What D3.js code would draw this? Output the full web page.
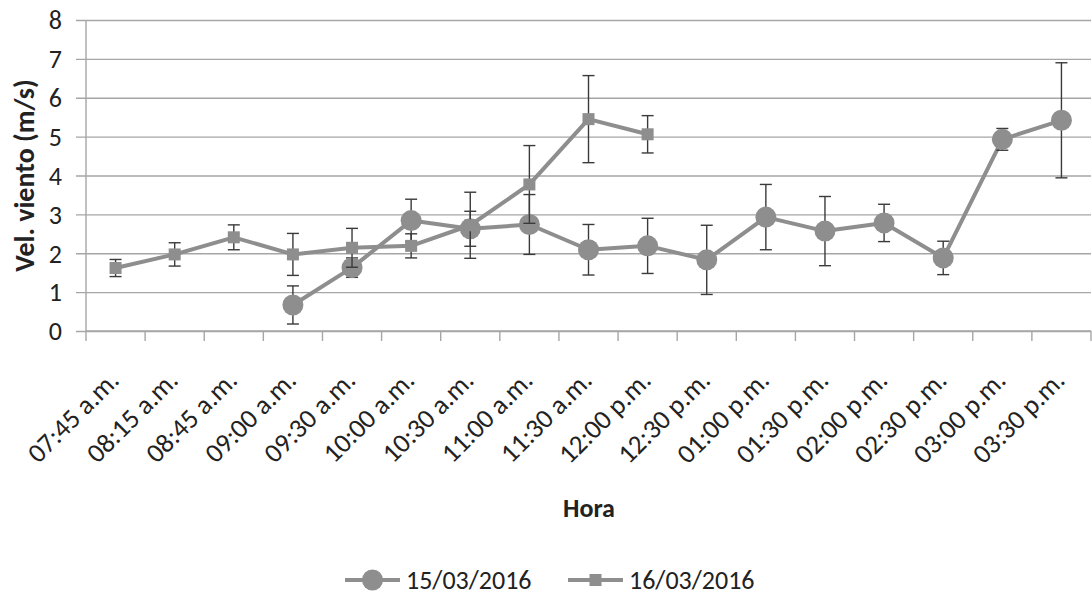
<!DOCTYPE html>
<html>
<head>
<meta charset="utf-8">
<script src="https://cdn.jsdelivr.net/npm/d3@7"></script>
<style>
  body { margin: 0; background: #fff; }
  svg { display: block; font-family: Carlito, Lato, "Liberation Sans", sans-serif; }
</style>
</head>
<body>
<svg id="chart" width="1092" height="598"></svg>
<script>

// horas de medicion
var categories = ["07:45 a.m.","08:15 a.m.","08:45 a.m.","09:00 a.m.","09:30 a.m.","10:00 a.m.",
  "10:30 a.m.","11:00 a.m.","11:30 a.m.","12:00 p.m.","12:30 p.m.","01:00 p.m.","01:30 p.m.",
  "02:00 p.m.","02:30 p.m.","03:00 p.m.","03:30 p.m."];

// 15/03/2016 (circulos)
var vel15 = [null,null,null,0.67,1.63,2.84,2.63,2.74,2.09,2.19,1.83,2.93,2.57,2.78,1.88,4.93,5.42];
var err15 = [null,null,null,0.49,0.25,0.55,0.45,0.77,0.65,0.71,0.89,0.84,0.89,0.48,0.43,0.28,1.48];

// 16/03/2016 (cuadrados)
var vel16 = [1.62,1.97,2.41,1.97,2.14,2.19,2.72,3.77,5.45,5.06,null,null,null,null,null,null,null];
var err16 = [0.22,0.30,0.32,0.54,0.50,0.31,0.85,1.00,1.12,0.48,null,null,null,null,null,null,null];

var seriesNames = ["15/03/2016","16/03/2016"];
var yTicks = [0,1,2,3,4,5,6,7,8];

var lineColor = "#8e8e8e";
var gridColor = "#a6a6a6";
var errColor = "#3a3a3a";

var svg = d3.select("#chart");
var pLeft = 86, pRight = 1091, pTop = 20, pBottom = 331;

var x = d3.scaleBand().domain(categories).range([pLeft,pRight]);
var y = d3.scaleLinear().domain([0,8]).range([pBottom,pTop]);

function toPoints(vals,errs){
  return vals.map(function(v,i){ return {cat:categories[i], v:v, e:errs[i]}; })
             .filter(function(d){ return d.v != null; });
}
var series = [
  {name:seriesNames[0], shape:"circle", pts:toPoints(vel15,err15)},
  {name:seriesNames[1], shape:"square", pts:toPoints(vel16,err16)}
];

// grid + y axis
var yAxis = d3.axisLeft(y).tickValues(yTicks).tickSize(-(pRight-pLeft)).tickPadding(24);
var gy = svg.append("g")
    .attr("transform", `translate(${pLeft},0)`)
    .call(yAxis);
gy.select(".domain").remove();
gy.selectAll(".tick line")
    .attr("x1", -10)
    .attr("stroke", gridColor)
    .attr("stroke-width", 1.4);
gy.selectAll(".tick text")
    .attr("font-size", 26)
    .attr("dy", "0.34em")
    .attr("fill", "#222");
gy.attr("font-family", null);

svg.append("line")
    .attr("x1", pLeft).attr("x2", pLeft)
    .attr("y1", pTop).attr("y2", pBottom)
    .attr("stroke", gridColor).attr("stroke-width", 1.4);

// x axis, ticks between categories
var bounds = categories.map(function(c){ return x(c); }).concat([pRight]);
svg.append("line")
    .attr("x1", pLeft).attr("x2", pRight)
    .attr("y1", pBottom).attr("y2", pBottom)
    .attr("stroke", gridColor).attr("stroke-width", 1.4);
svg.append("g").selectAll("line")
    .data(bounds)
    .enter()
    .append("line")
    .attr("x1", d => d).attr("x2", d => d)
    .attr("y1", pBottom).attr("y2", pBottom+10)
    .attr("stroke", gridColor).attr("stroke-width", 1.4);

svg.append("g").selectAll("text")
    .data(categories)
    .enter()
    .append("text")
    .text(d => d)
    .attr("text-anchor", "end")
    .attr("transform", d => `translate(${x(d) + x.bandwidth()/2 + 5},${pBottom+51}) rotate(-45)`)
    .attr("font-size", 27)
    .attr("fill", "#222");

// titulos
svg.append("text")
    .text("Hora")
    .attr("x", 589).attr("y", 517)
    .attr("text-anchor", "middle")
    .attr("font-weight", "bold")
    .attr("font-size", 26)
    .attr("fill", "#222");

svg.append("text")
    .text("Vel. viento (m/s)")
    .attr("transform", `translate(34,${(pTop+pBottom)/2}) rotate(-90)`)
    .attr("text-anchor", "middle")
    .attr("font-weight", "bold")
    .attr("font-size", 28)
    .attr("fill", "#222");

var line = d3.line()
    .x(d => x(d.cat) + x.bandwidth()/2)
    .y(d => y(d.v));

function drawMarker(sel, shape){
  if(shape == "circle"){
    sel.append("circle").attr("r", 10.5).attr("fill", lineColor);
  } else {
    sel.append("rect").attr("x",-6).attr("y",-6).attr("width",12).attr("height",12).attr("fill", lineColor);
  }
}

series.forEach(function(s){
  var g = svg.append("g");

  g.append("path")
      .datum(s.pts)
      .attr("d", line)
      .attr("fill", "none")
      .attr("stroke", lineColor)
      .attr("stroke-width", 4)
      .attr("stroke-linejoin", "round");

  var eb = g.selectAll(".err")
      .data(s.pts)
      .enter()
      .append("g")
      .attr("transform", d => `translate(${x(d.cat) + x.bandwidth()/2},0)`);
  eb.append("line")
      .attr("y1", d => y(d.v + d.e)).attr("y2", d => y(d.v - d.e))
      .attr("stroke", errColor).attr("stroke-width", 1.4);
  eb.append("line")
      .attr("x1", -6).attr("x2", 6)
      .attr("y1", d => y(d.v + d.e)).attr("y2", d => y(d.v + d.e))
      .attr("stroke", errColor).attr("stroke-width", 1.4);
  eb.append("line")
      .attr("x1", -6).attr("x2", 6)
      .attr("y1", d => y(d.v - d.e)).attr("y2", d => y(d.v - d.e))
      .attr("stroke", errColor).attr("stroke-width", 1.4);

  var mk = g.selectAll(".mk")
      .data(s.pts)
      .enter()
      .append("g")
      .attr("transform", d => `translate(${x(d.cat) + x.bandwidth()/2},${y(d.v)})`);
  drawMarker(mk, s.shape);
});

// leyenda
var legendX = [345, 568];
var leg = svg.append("g").selectAll("g")
    .data(series)
    .enter()
    .append("g")
    .attr("transform", (d,i) => `translate(${legendX[i]},580)`);
leg.append("line")
    .attr("x1", 0).attr("x2", 55)
    .attr("stroke", lineColor).attr("stroke-width", 4);
leg.each(function(d){
  var m = d3.select(this).append("g").attr("transform", "translate(27.5,0)");
  drawMarker(m, d.shape);
});
leg.append("text")
    .text(d => d.name)
    .attr("x", 61).attr("y", 9)
    .attr("font-size", 26)
    .attr("fill", "#222");

</script>
</body>
</html>
